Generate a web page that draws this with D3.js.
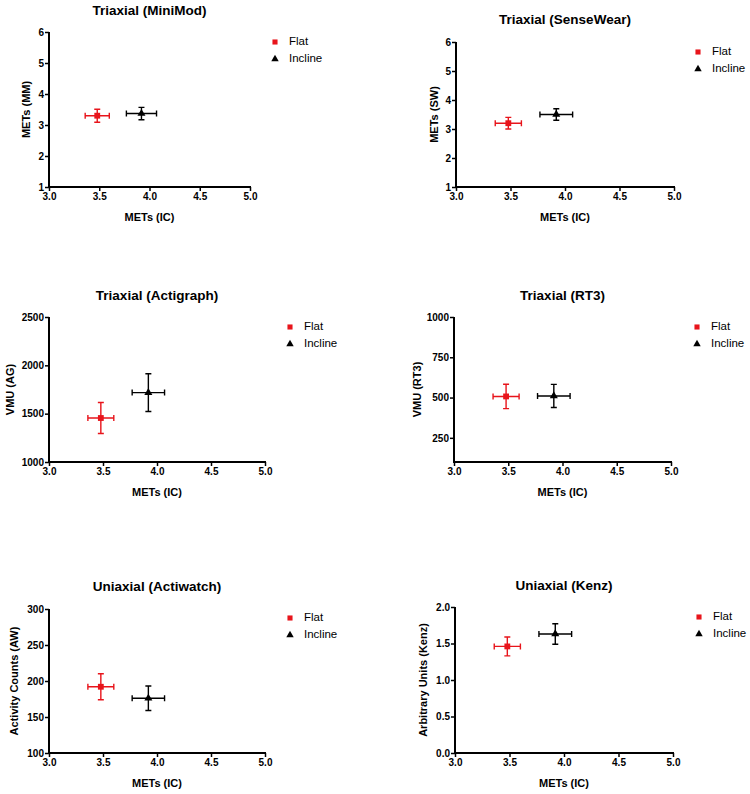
<!DOCTYPE html>
<html><head><meta charset="utf-8">
<script src="https://cdn.jsdelivr.net/npm/d3@7"></script>
<style>body{margin:0;background:#fff}svg{display:block}text{font-family:"Liberation Sans",Arial,sans-serif}</style>
</head><body>
<svg id="chart" width="750" height="794"></svg>
<script>
// ---- data ----
const panelTitles = ["Triaxial (MiniMod)","Triaxial (SenseWear)","Triaxial (Actigraph)","Triaxial (RT3)","Uniaxial (Actiwatch)","Uniaxial (Kenz)"];
const yAxisLabels = ["METs (MM)","METs (SW)","VMU (AG)","VMU (RT3)","Activity Counts (AW)","Arbitrary Units (Kenz)"];
const xAxisLabel = "METs (IC)";
const yMinValues = [1,1,1000,100,100,0];
const yMaxValues = [6,6,2500,1000,300,2.0];
const yTickValues = [[1,2,3,4,5,6],[1,2,3,4,5,6],[1000,1500,2000,2500],[250,500,750,1000],[100,150,200,250,300],[0,0.5,1.0,1.5,2.0]];
const yTickFormats = ["d","d","d","d","d",".1f"];
const xTickValues = [3.0,3.5,4.0,4.5,5.0];
const seriesNames = ["Flat","Incline"];
const flatX = [3.48,3.48,3.48,3.48,3.48,3.48];
const flatXErr = [0.12,0.12,0.12,0.12,0.12,0.12];
const flatY = [3.30,3.20,1455,507,192,1.46];
const flatYErr = [0.21,0.20,160,76,18,0.13];
const inclineX = [3.92,3.92,3.92,3.92,3.92,3.92];
const inclineXErr = [0.15,0.15,0.15,0.15,0.15,0.15];
const inclineY = [3.37,3.50,1718,510,176,1.63];
const inclineYErr = [0.20,0.20,195,72,17,0.14];

// ---- layout ----
const plots = [
  {x0:49,x1:250,y0:32,y1:187, ylx:27, leg:[275,42]},
  {x0:456,x1:674,y0:42,y1:187, ylx:435, leg:[698,52]},
  {x0:49,x1:265,y0:317,y1:462, ylx:11, leg:[290,327]},
  {x0:454,x1:671,y0:317,y1:462, ylx:418, leg:[697,327]},
  {x0:49,x1:265,y0:609,y1:753, ylx:15, leg:[290,618]},
  {x0:455,x1:673,y0:607,y1:753, ylx:424, leg:[699,617]}
];
const titleY = [15,24,300,300,591,590];
const colors = ["#e8141b","#000000"];

const svg = d3.select("#chart");

plots.forEach((p,i)=>{
  const g = svg.append("g");
  const x = d3.scaleLinear().domain([3,5]).range([p.x0,p.x1]);
  const y = d3.scaleLinear().domain([yMinValues[i],yMaxValues[i]]).range([p.y1,p.y0]);

  const xa = g.append("g").attr("transform",`translate(0,${p.y1})`)
    .call(d3.axisBottom(x).tickValues(xTickValues).tickFormat(d3.format(".1f")).tickSizeOuter(0).tickSize(4).tickPadding(2));
  const ya = g.append("g").attr("transform",`translate(${p.x0},0)`)
    .call(d3.axisLeft(y).tickValues(yTickValues[i]).tickFormat(d3.format(yTickFormats[i])).tickSizeOuter(0).tickSize(4).tickPadding(1));
  [xa,ya].forEach(a=>{
    a.select(".domain").attr("stroke","#000").attr("stroke-width",2);
    a.selectAll(".tick line").attr("stroke","#000").attr("stroke-width",1.5);
    a.selectAll(".tick text").attr("fill","#000").style("font-size","10px").style("font-weight","bold");
  });
  xa.select(".domain").attr("d",`M${p.x0-1},0H${p.x1+1}`);
  ya.select(".domain").attr("d",`M0,${p.y0}V${p.y1+1}`);

  g.append("text").attr("x",(p.x0+p.x1)/2).attr("y",titleY[i]).attr("text-anchor","middle")
    .style("font-size","13.5px").style("font-weight","bold").text(panelTitles[i]);
  g.append("text").attr("x",(p.x0+p.x1)/2).attr("y",p.y1+34).attr("text-anchor","middle")
    .style("font-size","11px").style("font-weight","bold").text(xAxisLabel);
  g.append("text").attr("transform",`translate(${p.ylx},${(p.y0+p.y1)/2}) rotate(-90)`)
    .attr("text-anchor","middle").attr("dominant-baseline","middle")
    .style("font-size","11px").style("font-weight","bold").text(yAxisLabels[i]);

  const pts = [
    {mx:flatX[i],ex:flatXErr[i],my:flatY[i],ey:flatYErr[i],c:colors[0],shape:d3.symbolSquare},
    {mx:inclineX[i],ex:inclineXErr[i],my:inclineY[i],ey:inclineYErr[i],c:colors[1],shape:d3.symbolTriangle}
  ];
  pts.forEach(d=>{
    const cx = x(d.mx), cy = y(d.my);
    const xl = x(d.mx-d.ex), xr = x(d.mx+d.ex), yt = y(d.my+d.ey), yb = y(d.my-d.ey);
    const cap = 3;
    const path = `M${xl},${cy}H${xr}M${xl},${cy-cap}V${cy+cap}M${xr},${cy-cap}V${cy+cap}`+
                 `M${cx},${yt}V${yb}M${cx-cap},${yt}H${cx+cap}M${cx-cap},${yb}H${cx+cap}`;
    g.append("path").attr("d",path).attr("stroke",d.c).attr("stroke-width",1.4).attr("fill","none");
    g.append("path").attr("transform",`translate(${cx},${cy})`)
      .attr("d",d3.symbol().type(d.shape).size(d.shape===d3.symbolSquare?34:28)()).attr("fill",d.c);
  });

  seriesNames.forEach((s,k)=>{
    const ly = p.leg[1] + k*17;
    g.append("path").attr("transform",`translate(${p.leg[0]},${ly})`)
      .attr("d",d3.symbol().type(k===0?d3.symbolSquare:d3.symbolTriangle).size(k===0?26:24)()).attr("fill",colors[k]);
    g.append("text").attr("x",p.leg[0]+14).attr("y",ly).attr("dominant-baseline","middle")
      .style("font-size","11.5px").text(s);
  });
});
</script>
</body></html>
